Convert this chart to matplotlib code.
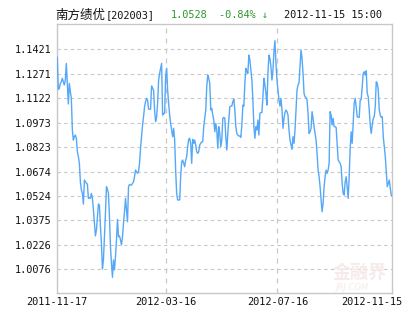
import matplotlib
matplotlib.use("Agg")
import matplotlib.pyplot as plt
import matplotlib.transforms as mtransforms
import numpy as np

title_name = "南方绩优"
title_code = "[202003]"
last_value = "1.0528"
change_text = "-0.84% ↓"
time_text = "2012-11-15 15:00"

nav = [
    1.1372, 1.1176, 1.1182, 1.1213, 1.1223, 1.1244, 1.1223, 1.1203, 1.1233, 1.1335,
    1.1213, 1.1087, 1.1213, 1.1162, 1.1121, 1.0928, 1.0866, 1.0887, 1.0897, 1.0877,
    1.0795, 1.0765, 1.0724, 1.0612, 1.0561, 1.0540, 1.0475, 1.0622, 1.0612, 1.0602,
    1.0597, 1.0510, 1.0514, 1.0510, 1.0540, 1.0510, 1.0439, 1.0357, 1.0280, 1.0316,
    1.0398, 1.0475, 1.0469, 1.0337, 1.0235, 1.0078, 1.0133, 1.0275, 1.0418, 1.0581,
    1.0565, 1.0540, 1.0398, 1.0214, 1.0112, 1.0027, 1.0133, 1.0072, 1.0153, 1.0255,
    1.0381, 1.0275, 1.0280, 1.0255, 1.0225, 1.0275, 1.0357, 1.0428, 1.0510, 1.0439,
    1.0367, 1.0581, 1.0595, 1.0591, 1.0591, 1.0602, 1.0612, 1.0642, 1.0683, 1.0673,
    1.0663, 1.0673, 1.0724, 1.0816, 1.0887, 1.0958, 1.1009, 1.1070, 1.1101, 1.1121,
    1.1111, 1.1056, 1.1054, 1.1056, 1.1197, 1.1182, 1.1172, 1.1050, 1.0979, 1.1005,
    1.1091, 1.1233, 1.1274, 1.1305, 1.1335, 1.1019, 1.1030, 1.1030, 1.1254, 1.1305,
    1.1172, 1.1091, 1.1019, 1.0968, 1.0928, 1.0887, 1.0938, 1.0866, 1.0683, 1.0540,
    1.0500, 1.0500, 1.0500, 1.0642, 1.0734, 1.0744, 1.0724, 1.0703, 1.0744, 1.0765,
    1.0826, 1.0871, 1.0877, 1.0846, 1.0724, 1.0871, 1.0846, 1.0866, 1.0836, 1.0795,
    1.0785, 1.0795, 1.0836, 1.0846, 1.0856, 1.0856, 1.0948, 1.0999, 1.1050, 1.1193,
    1.1264, 1.1244, 1.1213, 1.1050, 1.1060, 1.1019, 1.0989, 1.0917, 1.0968, 1.0928,
    1.0816, 1.0948, 1.0907, 1.0826, 1.0866, 1.0999, 1.1005, 1.0999, 1.0887, 1.0805,
    1.0907, 1.0989, 1.1070,
    1.1074, 1.1074, 1.1101, 1.1117, 1.1050, 1.0948, 1.0907, 1.0897, 1.0891, 1.0891,
    1.0883, 1.0958, 1.1080, 1.1074, 1.1213, 1.1305, 1.1284, 1.1274, 1.1386, 1.1356,
    1.1294, 1.1233, 1.1111, 1.0948, 1.0877, 1.0948, 1.0928, 1.0989, 1.0897, 1.1030,
    1.1034, 1.1034, 1.1131, 1.1244, 1.1203, 1.1152, 1.1080, 1.1274, 1.1386, 1.1366,
    1.1315, 1.1233, 1.1294, 1.1407, 1.1474, 1.1335, 1.1233, 1.1172, 1.1111, 1.1074,
    1.1121, 1.1050, 1.0938, 1.0999, 1.1034, 1.1050, 1.1040, 1.1019, 1.0928, 1.0866,
    1.0836, 1.0809, 1.0887, 1.0846, 1.0928, 1.1050, 1.1172, 1.1203, 1.1217, 1.1315,
    1.1417, 1.1366, 1.1274, 1.1152, 1.1131, 1.1127, 1.1111, 1.1030, 1.0907, 1.0917,
    1.0938, 1.1040, 1.0999, 1.0948, 1.0907, 1.0866, 1.0785, 1.0683, 1.0642, 1.0581,
    1.0500, 1.0428, 1.0479, 1.0581, 1.0642, 1.0683, 1.0663, 1.0683, 1.0724, 1.1040,
    1.1019, 1.0958, 1.0999, 1.0948, 1.0948, 1.0944, 1.0846, 1.0744, 1.0734, 1.0724,
    1.0703, 1.0602, 1.0540, 1.0530, 1.0612, 1.0642, 1.0581, 1.0510, 1.0642, 1.0816,
    1.0917, 1.0846, 1.0968, 1.1091, 1.1121, 1.1070, 1.1009, 1.1005, 1.1005, 1.1111,
    1.1115, 1.1193, 1.1274, 1.1284, 1.1264, 1.1290, 1.1152, 1.1131, 1.1050, 1.0958,
    1.0907, 1.0958, 1.0999, 1.1009, 1.1070, 1.1223, 1.1213, 1.1172, 1.1050, 1.1019,
    1.1005, 1.1009, 1.0887, 1.0826, 1.0765, 1.0673, 1.0581, 1.0602, 1.0622, 1.0571,
    1.0528,
]

y_ticks = [1.0076, 1.0226, 1.0375, 1.0524, 1.0674, 1.0823, 1.0973, 1.1122, 1.1271, 1.1421]
x_labels = ["2011-11-17", "2012-03-16", "2012-07-16", "2012-11-15"]
x_label_frac = [0.0, 0.326, 0.659, 1.0]

W, H = 415, 330
fig = plt.figure(figsize=(W / 100, H / 100), dpi=100)
fig.patch.set_facecolor("white")
ax = fig.add_axes([56.7 / W, 1 - 293 / H, (392 - 56.7) / W, (293 - 24) / H])

n = len(nav)
x = np.arange(n)
ax.plot(x, nav, color="#55a8f8", lw=1.0, zorder=3)

ax.set_xlim(-0.6, (n - 1) + 0.7)
ax.set_ylim(0.9931, 1.1576)

mono = "DejaVu Sans Mono"
ax.set_yticks(y_ticks)
ax.set_yticklabels([f"{v:.4f}" for v in y_ticks], fontsize=7.4, family=mono, color="#111111")
xt = [f * (n - 1) for f in x_label_frac]
ax.set_xticks(xt)
ax.set_xticklabels(x_labels, fontsize=7.4, family=mono, color="#111111")
ax.tick_params(axis="both", length=0, pad=3)
ax.tick_params(axis="y", pad=4)
labs = ax.get_xticklabels()
labs[-1].set_horizontalalignment("right")
labs[-1].set_transform(labs[-1].get_transform() + mtransforms.ScaledTranslation(11 / 100, 0, fig.dpi_scale_trans))

ax.grid(True, axis="y", color="#c8c8c8", linestyle=(0, (3, 3)), lw=0.8)
for xv in xt[1:-1]:
    ax.axvline(xv, color="#c8c8c8", linestyle=(0, (4, 4)), lw=0.9, zorder=1)
for s in ax.spines.values():
    s.set_color("#c8c8c8")
    s.set_linewidth(1.0)

# watermark
fig.text(360 / W, 1 - 272 / H, "金融界", fontsize=13, color="#f6eaea", family="Noto Sans CJK SC",
         ha="center", va="center", fontweight="bold", zorder=0)
fig.text(352 / W, 1 - 287 / H, "JRJ.COM", fontsize=6, color="#f6eaea", style="italic",
         ha="center", va="center", zorder=0)

ty = 1 - 15 / H
fig.text(55 / W, ty, title_name, fontsize=9, family="Noto Sans CJK SC", color="#111111", va="center")
fig.text(106 / W, ty, title_code, fontsize=7.4, family=mono, color="#111111", va="center")
green = "#2e962e"
fig.text(171 / W, ty, last_value, fontsize=7.4, family=mono, color=green, va="center")
fig.text(219 / W, ty, change_text, fontsize=7.4, family=mono, color=green, va="center")
fig.text(284 / W, ty, time_text, fontsize=7.4, family=mono, color="#111111", va="center")

fig.savefig("out.png", dpi=100, facecolor="white")
